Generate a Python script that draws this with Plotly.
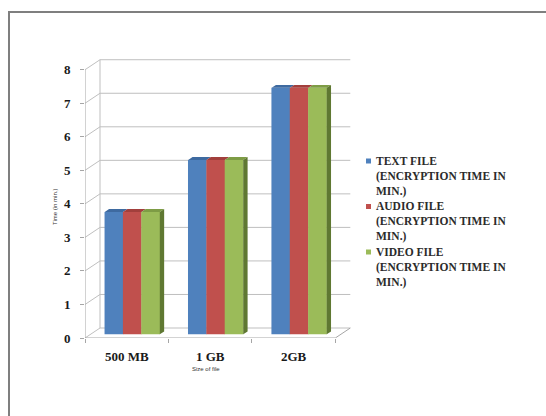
import plotly.graph_objects as go

# File sizes and encryption times (minutes)
categories = ["500 MB", "1 GB", "2GB"]
text_file = [3.65, 5.2, 7.35]
audio_file = [3.65, 5.2, 7.35]
video_file = [3.65, 5.2, 7.35]
series_names = [
    ["TEXT FILE", "(ENCRYPTION TIME IN", "MIN.)"],
    ["AUDIO FILE", "(ENCRYPTION TIME IN", "MIN.)"],
    ["VIDEO FILE", "(ENCRYPTION TIME IN", "MIN.)"],
]
y_ticks = [0, 1, 2, 3, 4, 5, 6, 7, 8]

front_colors = ["#4F81BD", "#C0504D", "#9BBB59"]
top_colors = ["#3E6AA0", "#A23F3C", "#7E9C45"]
side_colors = ["#30507A", "#7E302E", "#5F7832"]

# pseudo-3D geometry (in data units): depth of the back wall and of each bar
W, H = 546, 416
L_PX, R_PX, T_PX, B_PX = 85, 352, 59, 338
x_lo, x_hi = -0.5, 2.7
y_lo, y_hi = 0.0, 8.32
ux = (R_PX - L_PX) / (x_hi - x_lo)
uy = (B_PX - T_PX) / (y_hi - y_lo)
DX = 15 / ux          # wall depth, horizontal
DY = 10 / uy          # wall depth, vertical
bar_front = 0.37      # fraction of wall depth where bar front sits
bar_back = 0.66
group_w = 0.66
bw = group_w / 3

fig = go.Figure()

all_series = [text_file, audio_file, video_file]
fx0, fy0 = bar_front * DX, bar_front * DY
bdx, bdy = (bar_back - bar_front) * DX, (bar_back - bar_front) * DY

for s, vals in enumerate(all_series):
    xs = [i - group_w / 2 + bw * (s + 0.5) + fx0 for i in range(len(categories))]
    fig.add_trace(go.Bar(
        x=xs, y=vals, base=[fy0] * len(vals), width=bw * 1.02,
        marker=dict(color=front_colors[s], line=dict(width=0)),
        name=" ".join(series_names[s]), showlegend=False, hoverinfo="skip",
    ))

# top faces of every bar, side face of the rightmost bar in each group
for s, vals in enumerate(all_series):
    tx, ty = [], []
    for i, v in enumerate(vals):
        xl = i - group_w / 2 + bw * s + fx0
        xr = xl + bw
        yt = fy0 + v
        tx += [xl, xr, xr + bdx, xl + bdx, xl, None]
        ty += [yt, yt, yt + bdy, yt + bdy, yt, None]
    fig.add_trace(go.Scatter(x=tx, y=ty, fill="toself", mode="lines",
                             line=dict(width=0), fillcolor=top_colors[s],
                             showlegend=False, hoverinfo="skip"))
sx, sy = [], []
for i, v in enumerate(video_file):
    xr = i + group_w / 2 + fx0
    sx += [xr, xr + bdx, xr + bdx, xr, xr, None]
    sy += [fy0, fy0 + bdy, fy0 + v + bdy, fy0 + v, fy0, None]
fig.add_trace(go.Scatter(x=sx, y=sy, fill="toself", mode="lines",
                         line=dict(width=0), fillcolor=side_colors[2],
                         showlegend=False, hoverinfo="skip"))


def px(xp):
    return (xp - L_PX) / (R_PX - L_PX)


def py(yp):
    return (B_PX - yp) / (B_PX - T_PX)


grid = "#BFBFBF"
shapes = []
# back wall gridlines with their diagonal to the front axis
for v in y_ticks:
    shapes.append(dict(type="path", xref="x", yref="y", layer="below",
                       path=f"M {x_lo},{v} L {x_lo + DX},{v + DY} L {2.5 + DX},{v + DY}",
                       line=dict(color=grid, width=1)))
# back wall left edge
shapes.append(dict(type="line", xref="x", yref="y", layer="below",
                   x0=x_lo + DX, y0=DY, x1=x_lo + DX, y1=y_ticks[-1] + DY,
                   line=dict(color=grid, width=1)))
# floor front and right edges, front value axis
shapes.append(dict(type="path", xref="x", yref="y", layer="below",
                   path=f"M {x_lo},0 L 2.5,0 L {2.5 + DX},{DY}",
                   line=dict(color="#A6A6A6", width=1)))
shapes.append(dict(type="line", xref="x", yref="y", layer="below",
                   x0=x_lo, y0=0, x1=x_lo, y1=y_ticks[-1],
                   line=dict(color="#A6A6A6", width=1)))

# picture frame (top and left edges)
shapes.append(dict(type="path", xref="paper", yref="paper",
                   path=f"M {px(9)},{py(H + 2)} L {px(9)},{py(12)} L {px(W + 2)},{py(12)}",
                   line=dict(color="#7F7F7F", width=2)))

serif = "Liberation Serif"
annotations = [
    dict(text="Time (in min.)", xref="paper", yref="paper",
         x=px(55), y=py(207), xanchor="center", yanchor="middle",
         textangle=-90, showarrow=False,
         font=dict(family="Liberation Sans", size=6, color="#333333")),
    dict(text="Size of file", xref="paper", yref="paper",
         x=px(206), y=py(369), xanchor="center", yanchor="middle", showarrow=False,
         font=dict(family="Liberation Sans", size=6, color="#333333")),
]

# legend: small colour key and a three-line label per series
LEG_X, LEG_Y0, ENTRY_STEP = 375, 161, 45.5
for s, lines in enumerate(series_names):
    y0 = LEG_Y0 + ENTRY_STEP * s
    shapes.append(dict(type="rect", xref="paper", yref="paper",
                       x0=px(366), x1=px(371), y0=py(y0 - 2.5), y1=py(y0 + 2.5),
                       fillcolor=front_colors[s], line=dict(width=0)))
    annotations.append(dict(
        text="<b>" + "<br>".join(lines) + "</b>", xref="paper", yref="paper",
        x=px(LEG_X), y=py(y0 - 7.5), xanchor="left", yanchor="top", align="left",
        showarrow=False, borderpad=0,
        font=dict(family=serif, size=11.5, color="#2B2B2B")))

fig.update_layout(
    width=W, height=H,
    margin=dict(l=L_PX, r=W - R_PX, t=T_PX, b=H - B_PX),
    paper_bgcolor="white", plot_bgcolor="white",
    barmode="overlay",
    shapes=shapes,
    annotations=annotations,
    showlegend=False,
    xaxis=dict(range=[x_lo, x_hi], showgrid=False, zeroline=False, showline=False,
               tickmode="array", tickvals=list(range(len(categories))),
               ticktext=[f"<b>{c}</b>" for c in categories],
               ticks="", ticklabelstandoff=9,
               tickfont=dict(family=serif, size=13, color="#1A1A1A"),
               minor=dict(tickmode="array", tickvals=[-0.5, 0.5, 1.5, 2.5],
                          ticks="outside", ticklen=4, tickcolor="#A6A6A6", showgrid=False)),
    yaxis=dict(range=[y_lo, y_hi], showgrid=False, zeroline=False, showline=False,
               tickmode="array", tickvals=y_ticks,
               ticktext=[f"<b>{t}</b>" for t in y_ticks],
               ticks="outside", ticklen=4, tickcolor="#A6A6A6", ticklabelstandoff=7,
               tickfont=dict(family=serif, size=13, color="#1A1A1A")),
)

fig.write_html("out.html")
